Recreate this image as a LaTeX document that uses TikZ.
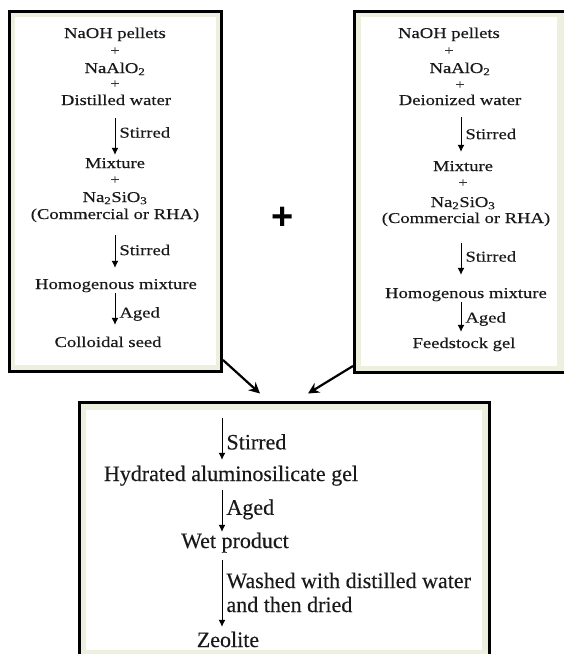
\documentclass[tikz,border=0pt]{standalone}
\usepackage{fontspec}
\setmainfont{Liberation Serif}[FakeBold=0.25]
\newfontfamily\wideserif{Liberation Serif}[FakeStretch=1.24,FakeBold=0.25]
\newfontfamily\plusfont{Liberation Sans}
\usetikzlibrary{arrows.meta}
\definecolor{frameGreen}{RGB}{237,240,223}

\begin{document}
\begin{tikzpicture}[x=1pt,y=-1pt]
  \tikzstyle{boxStyle}=[draw=black,line width=3pt,fill=frameGreen,inner sep=0pt]
  \tikzstyle{stepText}=[inner sep=0pt,anchor=base,text height=11pt,text depth=3pt,text=black!90,font=\wideserif\fontsize{15}{16}\selectfont]
  \tikzstyle{plusText}=[inner sep=0pt,anchor=base,text=black!80,font=\wideserif\fontsize{13.5}{14}\selectfont]
  \tikzstyle{bigText}=[inner sep=0pt,anchor=base,text height=15pt,text depth=5pt,text=black!90,font=\fontsize{22}{24}\selectfont]
  \tikzstyle{stepLabel}=[inner sep=0pt,anchor=west,xshift=4pt,text=black!90,font=\wideserif\fontsize{15}{16}\selectfont]
  \tikzstyle{bigLabel}=[inner sep=0pt,anchor=west,xshift=4pt,align=left,text=black!90,font=\fontsize{22}{24}\selectfont]
  \tikzstyle{flow}=[-{Latex[length=7pt,width=7pt]},line width=1pt]
  \tikzstyle{mergeArrow}=[-{Stealth[length=11pt,width=11pt]},line width=2.2pt]

  \useasboundingbox (0,0) rectangle (564,654);
  \clip (0,0) rectangle (564,654);

  % the three boxes
  \node[boxStyle,minimum width=212pt,minimum height=360pt](seedBox) at (115.5,191.5) {};
  \fill[white] ([shift={(7pt,-7pt)}]seedBox.north west) rectangle ([shift={(-7pt,8pt)}]seedBox.south east);
  \node[boxStyle,minimum width=212.5pt,minimum height=361pt](gelBox) at (460.75,192) {};
  \fill[white] ([shift={(7.5pt,-7pt)}]gelBox.north west) rectangle ([shift={(-12pt,8pt)}]gelBox.south east);
  \node[boxStyle,minimum width=410pt,minimum height=255.5pt](resultBox) at (284,530.25) {};
  \fill[white] ([shift={(8pt,-9pt)}]resultBox.north west) rectangle ([shift={(-9pt,10pt)}]resultBox.south east);

  \begin{scope}
    % colloidal seed
    \coordinate (seedAxis) at (115,0);
    \node[stepText](naohA) at (115,38) {NaOH pellets};
    \node[plusText](plusA1) at (115,55) {+};
    \node[stepText](aloA) at (115,73) {NaAlO\textsubscript{2}};
    \node[plusText](plusA2) at (115,88) {+};
    \node[stepText](water) at (116,105) {Distilled water};
    \node[stepText](mixA) at (115,168) {Mixture};
    \draw[flow,shorten <=10pt,shorten >=2pt] (water.south -| seedAxis) -- (mixA.north -| seedAxis) node[midway,stepLabel] {Stirred};
    \node[plusText](plusA3) at (115,184) {+};
    \node[stepText](silA) at (115,202) {Na\textsubscript{2}SiO\textsubscript{3}};
    \node[stepText](sourceA) at (115,219) {(Commercial or RHA)};
    \node[stepText](homA) at (116,289) {Homogenous mixture};
    \draw[flow,shorten <=13pt,shorten >=10pt] (sourceA.south -| seedAxis) -- (homA.north -| seedAxis) node[midway,stepLabel] {Stirred};
    \node[stepText](seed) at (108,347) {Colloidal seed};
    \draw[flow,shorten <=1pt,shorten >=11pt] (homA.south -| seedAxis) -- (seed.north -| seedAxis) node[midway,stepLabel] {Aged};

    % feedstock gel
    \coordinate (gelAxis) at (461,0);
    \node[stepText](naohB) at (449,38) {NaOH pellets};
    \node[plusText](plusB1) at (449,55) {+};
    \node[stepText](aloB) at (460,73) {NaAlO\textsubscript{2}};
    \node[plusText](plusB2) at (460,89) {+};
    \node[stepText](deion) at (460,105) {Deionized water};
    \node[stepText](mixB) at (463,171) {Mixture};
    \draw[flow,shorten <=9pt,shorten >=8pt] (deion.south -| gelAxis) -- (mixB.north -| gelAxis) node[midway,stepLabel] {Stirred};
    \node[plusText](plusB3) at (463,187) {+};
    \node[stepText](silB) at (463,207) {Na\textsubscript{2}SiO\textsubscript{3}};
    \node[stepText](sourceB) at (466,223) {(Commercial or RHA)};
    \node[stepText](homB) at (466,298) {Homogenous mixture};
    \draw[flow,shorten <=17pt,shorten >=12pt] (sourceB.south -| gelAxis) -- (homB.north -| gelAxis) node[midway,stepLabel] {Stirred};
    \node[stepText](feed) at (464,348) {Feedstock gel};
    \draw[flow,shorten <=1pt,shorten >=5pt] (homB.south -| gelAxis) -- (feed.north -| gelAxis) node[midway,stepLabel] {Aged};

    \node[font=\plusfont\bfseries\fontsize{38}{38}\selectfont,inner sep=0pt](plus) at (283,218) {+};

    % merging
    \draw[mergeArrow] ([yshift=13pt]seedBox.south east) -- ([shift={(-24pt,7.5pt)}]resultBox.north);
    \draw[mergeArrow] ([yshift=8pt]gelBox.south west) -- ([shift={(24pt,7.5pt)}]resultBox.north);

    % zeolite
    \coordinate (resAxis) at (222,0);
    \coordinate (resTop) at (222,418);
    \node[bigText](hydrated) at (231,481) {Hydrated aluminosilicate gel};
    \draw[flow,shorten >=6pt] (resTop) -- (hydrated.north -| resAxis) node[midway,bigLabel] {Stirred};
    \node[bigText](wet) at (235,548) {Wet product};
    \draw[flow,shorten <=4pt,shorten >=1pt] (hydrated.south -| resAxis) -- (wet.north -| resAxis) node[midway,bigLabel] {Aged};
    \node[bigText](zeolite) at (228,647) {Zeolite};
    \draw[flow,shorten <=7pt,shorten >=5pt] (wet.south -| resAxis) -- (zeolite.north -| resAxis) node[midway,bigLabel] {Washed with distilled water\\and then dried};
  \end{scope}

\end{tikzpicture}
\end{document}
